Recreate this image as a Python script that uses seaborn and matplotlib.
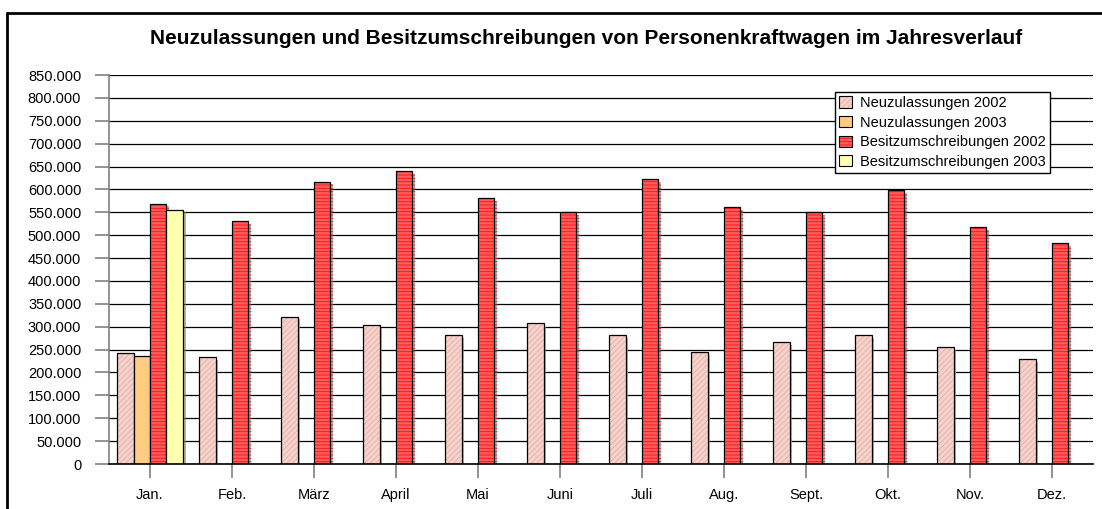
import matplotlib
matplotlib.use("Agg")
import matplotlib.pyplot as plt
import matplotlib.patheffects as pe
from matplotlib.lines import Line2D
from matplotlib.patches import Patch
from matplotlib.ticker import FuncFormatter, MultipleLocator
import numpy as np
import pandas as pd
import seaborn as sns

months = ["Jan.", "Feb.", "März", "April", "Mai", "Juni", "Juli", "Aug.", "Sept.", "Okt.", "Nov.", "Dez."]
series_names = ["Neuzulassungen 2002", "Neuzulassungen 2003", "Besitzumschreibungen 2002", "Besitzumschreibungen 2003"]
neuz_2002 = [243000, 233000, 322000, 304000, 282000, 308000, 282000, 244000, 266000, 281000, 256000, 229000]
neuz_2003 = [237000] + [np.nan] * 11
besitz_2002 = [569000, 530000, 617000, 640000, 581000, 551000, 623000, 562000, 551000, 599000, 517000, 482000]
besitz_2003 = [556000] + [np.nan] * 11

title = "Neuzulassungen und Besitzumschreibungen von Personenkraftwagen im Jahresverlauf"

sns.set_theme(style="white")
plt.rcParams["font.family"] = ["Liberation Sans", "DejaVu Sans"]
plt.rcParams["text.color"] = "black"
plt.rcParams["hatch.linewidth"] = 0.6

rows = []
for name, vals in zip(series_names, [neuz_2002, neuz_2003, besitz_2002, besitz_2003]):
    for m, v in zip(months, vals):
        rows.append({"Monat": m, "Serie": name, "Wert": v})
df = pd.DataFrame(rows)

fig = plt.figure(figsize=(11.02, 5.09), dpi=100)
ax = fig.add_axes([109 / 1102, 45 / 509, 984 / 1102, 389 / 509])

face_colors = ["#f6d2cb", "#ffcc80", "#ff5c5c", "#ffffb0"]
hatches = ["//////", None, "-----", None]
hatch_colors = ["#e2aea6", None, "#ff1010", None]

sns.barplot(data=df, x="Monat", y="Wert", hue="Serie", order=months, hue_order=series_names,
            palette=face_colors, width=0.8, gap=0, dodge=True, ax=ax, legend=False,
            saturation=1, err_kws={"linewidth": 0})

shadow = [pe.SimplePatchShadow(offset=(2, -2), shadow_rgbFace="#808080", alpha=0.6), pe.Normal()]
for cont, fc, h, hc in zip(ax.containers, face_colors, hatches, hatch_colors):
    for p in cont.patches:
        p.set_facecolor(fc)
        p.set_edgecolor("black")
        p.set_linewidth(0.9)
        if h:
            p.set_hatch(h)
            p._hatch_color = matplotlib.colors.to_rgba(hc)
        p.set_path_effects(shadow)

ax.set_ylim(0, 850000)
ax.set_xlim(-0.5, len(months) - 0.5)
ax.yaxis.set_major_locator(MultipleLocator(50000))
ax.yaxis.set_major_formatter(FuncFormatter(lambda v, pos: f"{v:,.0f}".replace(",", ".")))
ax.grid(axis="y", color="black", linewidth=0.9)
ax.set_axisbelow(True)
ax.set_xlabel("")
ax.set_ylabel("")

for s in ["top", "right"]:
    ax.spines[s].set_visible(False)
ax.spines["left"].set_color("#808080")
ax.spines["left"].set_linewidth(1.2)
ax.spines["bottom"].set_color("black")
ax.spines["bottom"].set_linewidth(1.2)

ax.tick_params(axis="y", direction="out", length=10, width=1.2, color="#808080", pad=10, labelsize=10.5, labelcolor="black", left=True)
ax.tick_params(axis="x", direction="out", length=10, width=1.2, color="#808080", pad=7, labelsize=10.5, labelcolor="black", bottom=True)

leg_handles = []
for fc, h, hc in zip(face_colors, hatches, hatch_colors):
    ph = Patch(facecolor=fc, edgecolor="black", linewidth=0.8, hatch=h)
    if h:
        ph._hatch_color = matplotlib.colors.to_rgba(hc)
    leg_handles.append(ph)
leg = ax.legend(leg_handles, series_names, loc="upper right", bbox_to_anchor=(0.956, 0.957),
                borderaxespad=0, fancybox=False, framealpha=1, edgecolor="black", fontsize=10.5,
                handlelength=0.9, handleheight=0.8, handletextpad=0.5, labelspacing=0.38,
                borderpad=0.3)
leg.get_frame().set_linewidth(1.0)
for t in leg.get_texts():
    t.set_color("black")

fig.text(586 / 1102, 1 - 38 / 509, title, ha="center", va="center", fontsize=15, fontweight="bold", color="black")

fig.add_artist(Line2D([7 / 1102, 7 / 1102], [0, 1 - 12.5 / 509], color="black", linewidth=2, transform=fig.transFigure))
fig.add_artist(Line2D([7 / 1102, 1], [1 - 12.5 / 509, 1 - 12.5 / 509], color="black", linewidth=2, transform=fig.transFigure))

fig.savefig("out.png", dpi=100)
